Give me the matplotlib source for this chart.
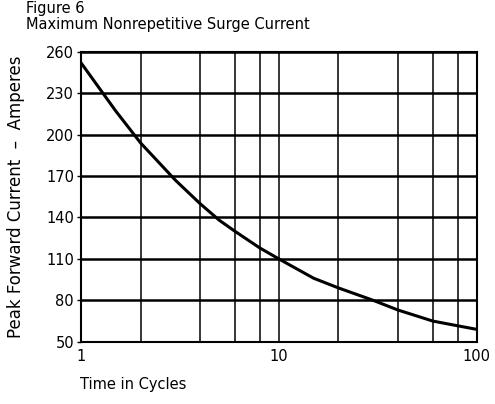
import numpy as np
import matplotlib.pyplot as plt

# curve (cycles, amperes)
cycles = [1, 1.5, 2, 3, 4, 5, 6, 8, 10, 15, 20, 30, 40, 60, 80, 100]
amps = [252, 217, 194, 167, 150, 138, 130, 118, 110, 96, 89, 80, 73, 65, 61.6, 59]

y_ticks = [50, 80, 110, 140, 170, 200, 230, 260]
x_grid = [2, 4, 6, 8, 10, 20, 40, 60, 80]
x_ticks = [1, 10, 100]

plt.rcParams["font.family"] = ["DejaVu Sans"]

fig = plt.figure(figsize=(4.95, 4.04), dpi=100)
ax = fig.add_axes([0.1636, 0.154, 0.7994, 0.718])

ax.set_xscale("log")
ax.set_xlim(1, 100)
ax.set_ylim(50, 260)

for yv in y_ticks:
    ax.axhline(yv, color="black", lw=1.8, zorder=1)
for xv in x_grid:
    ax.axvline(xv, color="black", lw=1.1, zorder=1)

ax.plot(cycles, amps, color="black", lw=2.2, zorder=3)

ax.set_yticks(y_ticks)
ax.set_yticklabels([str(v) for v in y_ticks], fontsize=10.5)
ax.set_xticks(x_ticks)
ax.set_xticklabels([str(v) for v in x_ticks], fontsize=10.5)
ax.minorticks_off()
ax.tick_params(axis="y", length=3, width=1, pad=2)
ax.tick_params(axis="x", length=0, pad=5)

for s in ax.spines.values():
    s.set_linewidth(1.5)

ax.set_ylabel("Peak Forward Current  –  Amperes", fontsize=12)
ax.yaxis.set_label_coords(-0.142, 0.5)

fig.text(80 / 495, 1 - 384 / 404, "Time in Cycles", fontsize=10.5, va="center", ha="left")
fig.text(26 / 495, 1 - 9 / 404, "Figure 6", fontsize=10.5, va="center", ha="left")
fig.text(26 / 495, 1 - 25 / 404, "Maximum Nonrepetitive Surge Current", fontsize=10.5,
         va="center", ha="left")

fig.savefig("out.png", dpi=100)
